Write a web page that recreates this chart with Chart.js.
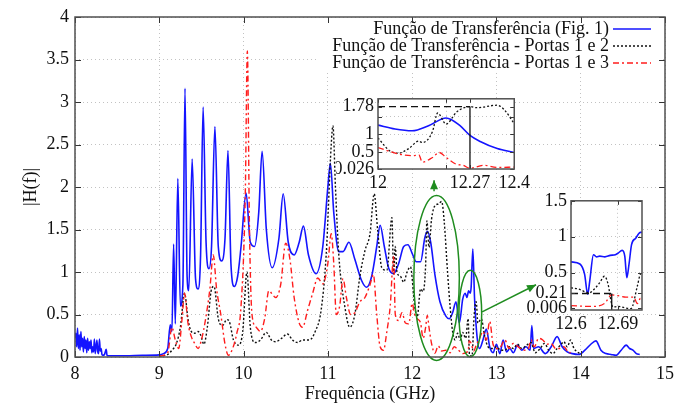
<!DOCTYPE html>
<html>
<head>
<meta charset="utf-8">
<title>Função de Transferência</title>
<script src="https://cdn.jsdelivr.net/npm/chart.js"></script>
<style>
  body { margin: 0; background: #fff; }
  #wrap { position: relative; width: 689px; height: 405px; }
  #wrap canvas { position: absolute; }
</style>
</head>
<body>
<div id="wrap">
  <canvas id="mainChart" width="689" height="405" style="left:0;top:0"></canvas>
  <canvas id="zoomA" width="197" height="110" style="left:336px;top:84px"></canvas>
  <canvas id="zoomB" width="128" height="150" style="left:522px;top:186px"></canvas>
</div>
<script>
// legenda
const seriesNames = [
  'Função de Transferência (Fig. 1)',
  'Função de Transferência - Portas 1 e 2',
  'Função de Transferência - Portas 1 e 3'
];

// Fig. 1 (azul)
const blueFreq = [
  8.00, 8.01, 8.02, 8.03, 8.04, 8.05, 8.06, 8.07, 8.08, 8.09, 8.10, 8.11, 8.12, 8.13, 8.14,
  8.15, 8.16, 8.17, 8.18, 8.19, 8.20, 8.21, 8.22, 8.23, 8.24, 8.26, 8.27, 8.28, 8.29, 8.30,
  8.31, 8.32, 8.33, 8.35, 8.37, 8.38, 8.40, 8.60, 8.80, 9.00, 9.05, 9.10, 9.13, 9.15, 9.17,
  9.19, 9.22, 9.25, 9.28, 9.305, 9.33, 9.35, 9.39, 9.43, 9.46, 9.49, 9.52, 9.555, 9.59, 9.62,
  9.66, 9.70, 9.74, 9.78, 9.815, 9.85, 9.89, 9.93, 9.97, 10.03, 10.08, 10.13, 10.18, 10.22, 10.27,
  10.34, 10.42, 10.47, 10.53, 10.60, 10.66, 10.71, 10.77, 10.86, 10.94, 11.00, 11.03, 11.07, 11.13, 11.18,
  11.25, 11.32, 11.40, 11.46, 11.52, 11.58, 11.62, 11.67, 11.72, 11.78, 11.84, 11.90, 11.95, 12.00, 12.05,
  12.10, 12.15, 12.18, 12.22, 12.27, 12.33, 12.40, 12.44, 12.48, 12.52, 12.56, 12.60, 12.63, 12.65, 12.67,
  12.69, 12.70, 12.72, 12.74, 12.77, 12.80, 12.84, 12.88, 12.92, 12.96, 13.00, 13.04, 13.08, 13.12, 13.16,
  13.20, 13.25, 13.30, 13.35, 13.40, 13.42, 13.44, 13.50, 13.58, 13.65, 13.72, 13.78, 13.84, 13.90, 13.98,
  14.05, 14.12, 14.18, 14.24, 14.30, 14.36, 14.42, 14.48, 14.54, 14.58, 14.62, 14.66, 14.70
];
const blueMag = [
  0.22, 0.28, 0.12, 0.34, 0.10, 0.26, 0.08, 0.30, 0.12, 0.22, 0.06, 0.24, 0.10, 0.20, 0.05,
  0.22, 0.08, 0.18, 0.10, 0.20, 0.05, 0.12, 0.06, 0.21, 0.04, 0.20, 0.06, 0.04, 0.21, 0.07,
  0.10, 0.03, 0.02, 0.03, 0.09, 0.02, 0.015, 0.015, 0.02, 0.025, 0.04, 0.10, 0.38, 0.30, 1.33,
  0.39, 2.10, 0.60, 0.85, 3.16, 0.95, 0.78, 2.33, 0.92, 0.80, 1.20, 2.94, 1.35, 1.04, 1.30,
  2.71, 1.30, 1.13, 1.40, 2.43, 1.10, 0.83, 0.95, 1.30, 1.93, 1.35, 1.30, 1.70, 2.42, 1.50,
  1.05, 1.40, 1.92, 1.35, 1.20, 1.35, 1.54, 1.20, 0.98, 1.30, 2.00, 2.28, 1.70, 1.24, 1.24,
  1.35, 1.15, 0.90, 0.82, 0.95, 1.30, 1.55, 1.30, 1.05, 0.98, 1.10, 1.30, 1.32, 1.22, 1.12,
  1.12, 1.40, 1.48, 1.35, 0.97, 0.65, 0.48, 0.45, 0.52, 0.65, 0.40, 0.68, 0.75, 0.70, 0.78,
  0.75, 0.82, 1.27, 0.70, 0.24, 0.10, 0.20, 0.33, 0.12, 0.05, 0.15, 0.04, 0.20, 0.06, 0.10,
  0.05, 0.14, 0.08, 0.12, 0.08, 0.37, 0.10, 0.12, 0.04, 0.12, 0.24, 0.12, 0.06, 0.04, 0.03,
  0.08, 0.15, 0.19, 0.08, 0.04, 0.03, 0.02, 0.08, 0.14, 0.10, 0.08, 0.04, 0.03
];

// Portas 1 e 2 (preto)
const blackFreq = [
  9.00, 9.10, 9.15, 9.20, 9.25, 9.30, 9.34, 9.37, 9.42, 9.46, 9.49, 9.53, 9.57, 9.62, 9.65,
  9.70, 9.75, 9.80, 9.83, 9.88, 9.94, 9.99, 10.04, 10.08, 10.14, 10.20, 10.27, 10.33, 10.38, 10.45,
  10.52, 10.58, 10.64, 10.70, 10.78, 10.85, 10.92, 10.98, 11.04, 11.06, 11.09, 11.13, 11.20, 11.26, 11.32,
  11.38, 11.44, 11.50, 11.55, 11.59, 11.64, 11.70, 11.76, 11.78, 11.80, 11.82, 11.86, 11.90, 11.94, 11.98,
  12.03, 12.06, 12.10, 12.13, 12.16, 12.175, 12.20, 12.23, 12.27, 12.31, 12.35, 12.38, 12.42, 12.45, 12.48,
  12.51, 12.54, 12.57, 12.60, 12.635, 12.664, 12.68, 12.71, 12.735, 12.76, 12.78, 12.82, 12.86, 12.90, 12.95,
  13.00, 13.05, 13.10, 13.15, 13.20, 13.25, 13.30, 13.36, 13.41, 13.46, 13.52, 13.57, 13.62, 13.67, 13.72,
  13.76, 13.80, 13.84, 13.88, 13.92, 13.96, 13.99
];
const blackMag = [
  0.01, 0.03, 0.08, 0.15, 0.35, 0.75, 0.45, 0.32, 0.28, 0.30, 0.26, 0.15, 0.35, 0.80, 0.83,
  0.45, 0.37, 0.44, 0.42, 0.20, 0.14, 0.30, 1.00, 0.35, 0.17, 0.20, 0.29, 0.20, 0.18, 0.22,
  0.27, 0.20, 0.17, 0.20, 0.20, 0.30, 0.55, 1.20, 2.50, 2.72, 2.00, 1.20, 0.60, 0.35, 0.50,
  0.95, 1.25, 1.45, 1.92, 1.50, 1.05, 1.02, 1.64, 0.98, 1.30, 1.00, 0.95, 0.88, 1.00, 1.06,
  0.60, 0.47, 0.80, 0.77, 1.08, 1.60, 1.29, 1.62, 1.78, 1.80, 1.83, 1.60, 1.00, 0.60, 0.30,
  0.20, 0.28, 0.20, 0.29, 0.22, 0.45, 0.03, 0.01, 0.48, 0.65, 0.40, 0.45, 0.25, 0.12, 0.10,
  0.12, 0.08, 0.08, 0.12, 0.10, 0.15, 0.10, 0.14, 0.17, 0.05, 0.10, 0.16, 0.08, 0.04, 0.10,
  0.14, 0.18, 0.12, 0.20, 0.10, 0.06, 0.04
];

// Portas 1 e 3 (vermelho)
const redFreq = [
  9.00, 9.10, 9.15, 9.19, 9.23, 9.27, 9.30, 9.34, 9.38, 9.42, 9.46, 9.50, 9.55, 9.60, 9.64,
  9.68, 9.73, 9.78, 9.82, 9.87, 9.92, 9.97, 10.02, 10.045, 10.07, 10.10, 10.15, 10.20, 10.25, 10.30,
  10.34, 10.38, 10.44, 10.50, 10.55, 10.60, 10.66, 10.70, 10.76, 10.82, 10.88, 10.94, 11.00, 11.04, 11.07,
  11.10, 11.14, 11.18, 11.22, 11.27, 11.32, 11.38, 11.44, 11.50, 11.54, 11.58, 11.62, 11.66, 11.70, 11.74,
  11.78, 11.80, 11.84, 11.88, 11.92, 11.96, 12.00, 12.03, 12.06, 12.10, 12.13, 12.16, 12.18, 12.20, 12.23,
  12.27, 12.31, 12.35, 12.40, 12.45, 12.50, 12.55, 12.60, 12.664, 12.678, 12.70, 12.73, 12.76, 12.80, 12.84,
  12.88, 12.92, 12.96, 13.00, 13.05, 13.10, 13.15, 13.20, 13.26, 13.32, 13.38, 13.41, 13.45, 13.50, 13.55,
  13.60, 13.65, 13.70, 13.75, 13.80, 13.85, 13.88
];
const redMag = [
  0.01, 0.05, 0.35, 0.20, 0.10, 0.45, 0.75, 0.40, 0.24, 0.16, 0.10, 0.20, 0.45, 0.80, 1.20,
  0.80, 0.50, 0.15, 0.02, 0.10, 0.28, 0.60, 1.90, 3.60, 1.50, 0.50, 0.35, 0.30, 0.45, 0.78,
  0.74, 0.70, 0.85, 1.34, 1.15, 0.70, 0.40, 0.35, 0.55, 0.75, 0.93, 0.86, 1.10, 1.45, 1.10,
  0.50, 0.60, 0.92, 0.70, 0.50, 0.52, 0.65, 0.70, 0.85, 0.97, 0.50, 0.12, 0.08, 0.30, 0.60,
  1.18, 0.50, 0.43, 0.52, 0.40, 0.39, 0.63, 0.50, 0.45, 0.40, 0.22, 0.35, 0.49, 0.35, 0.16,
  0.045, 0.13, 0.07, 0.08, 0.05, 0.12, 0.08, 0.04, 0.07, 0.19, 0.16, 0.07, 0.14, 0.22, 0.30,
  0.20, 0.42, 0.15, 0.10, 0.12, 0.20, 0.10, 0.16, 0.12, 0.08, 0.10, 0.20, 0.12, 0.22, 0.20,
  0.15, 0.16, 0.10, 0.10, 0.12, 0.06, 0.05
];

// zoom 12 - 12.4 GHz
const zoomABlueFreq = [12.0, 12.05, 12.1, 12.15, 12.2, 12.24, 12.27, 12.3, 12.35, 12.4];
const zoomABlueMag = [1.26, 1.15, 1.10, 1.25, 1.46, 1.25, 0.97, 0.80, 0.60, 0.49];
const zoomABlackFreq = [12.0, 12.034, 12.06, 12.09, 12.12, 12.13, 12.16, 12.175, 12.2, 12.23, 12.25, 12.27, 12.29, 12.35, 12.37, 12.4];
const zoomABlackMag = [0.90, 0.54, 0.47, 0.60, 0.81, 0.77, 1.08, 1.60, 1.29, 1.62, 1.74, 1.78, 1.75, 1.82, 1.70, 1.30];
const zoomARedFreq = [12.0, 12.06, 12.1, 12.12, 12.13, 12.16, 12.18, 12.2, 12.23, 12.25, 12.27, 12.31, 12.35, 12.4];
const zoomARedMag = [0.63, 0.45, 0.40, 0.42, 0.22, 0.35, 0.49, 0.35, 0.16, 0.13, 0.045, 0.13, 0.07, 0.08];
const zoomAMarkFreq = [12.0, 12.27, 12.27];
const zoomAMarkMag = [1.78, 1.78, 0.026];
const zoomAXTicks = [12, 12.2, 12.27, 12.4];
const zoomAXLabels = ['12', '', '12.27', '12.4'];
const zoomAYTicks = [0.026, 0.5, 1, 1.5, 1.78];
const zoomAYLabels = ['0.026', '0.5', '1', '', '1.78'];

// zoom 12.6 - 12.74 GHz
const zoomBBlueFreq = [12.6, 12.617, 12.626, 12.632, 12.636, 12.643, 12.649, 12.655, 12.665, 12.675, 12.685, 12.69, 12.698, 12.703, 12.707, 12.711, 12.716, 12.724, 12.733, 12.736];
const zoomBBlueMag = [0.65, 0.62, 0.48, 0.20, 0.39, 0.75, 0.72, 0.73, 0.72, 0.74, 0.75, 0.77, 0.81, 0.73, 0.43, 0.61, 0.89, 0.98, 1.06, 1.06];
const zoomBBlackFreq = [12.6, 12.615, 12.635, 12.647, 12.655, 12.664, 12.671, 12.677, 12.68, 12.69, 12.703, 12.715, 12.727, 12.733, 12.736];
const zoomBBlackMag = [0.29, 0.27, 0.22, 0.29, 0.36, 0.45, 0.34, 0.09, 0.02, 0.03, 0.01, 0.00, 0.31, 0.48, 0.49];
const zoomBRedFreq = [12.6, 12.64, 12.664, 12.678, 12.69, 12.705, 12.72, 12.727, 12.733, 12.736];
const zoomBRedMag = [0.04, 0.03, 0.07, 0.19, 0.18, 0.16, 0.16, 0.07, 0.14, 0.14];
const zoomBMarkFreq = [12.6, 12.678, 12.678];
const zoomBMarkMag = [0.21, 0.21, -0.02];
const zoomBXTicks = [12.6, 12.69];
const zoomBXLabels = ['12.6', '12.69'];
const zoomBYTicks = [0.006, 0.21, 0.5, 1, 1.5];
const zoomBYLabels = ['0.006', '0.21', '0.5', '1', '1.5'];

// elipses verdes e setas (em GHz / |H(f)|)
const ellipseFreq = [12.29, 12.69];
const ellipseMag = [0.93, 0.51];
const ellipseHalfFreq = [0.27, 0.135];
const ellipseHalfMag = [0.97, 0.51];
const arrowFromFreq = [12.26, 12.83];
const arrowFromMag = [1.95, 0.53];
const arrowToFreq = [12.26, 13.47];
const arrowToMag = [2.08, 0.85];

const serif = "'Liberation Serif', 'Times New Roman', serif";
Chart.defaults.font.family = serif;
Chart.defaults.color = '#111';

const BLUE = '#1414ff';
const BLACK = '#111111';
const RED = '#ff1c1c';
const GREEN = '#1f8c1f';
const DOT = [2, 2];
const DASHDOT = [6, 3, 2, 3];

const pts = (xs, ys) => xs.map((x, i) => ({ x: x, y: ys[i] }));

// moldura e marcas de escala para dentro (estilo gnuplot)
const frameTicks = {
  id: 'frameTicks',
  beforeDraw(chart, args, opts) {
    if (!opts.fill) return;
    const a = chart.chartArea;
    chart.ctx.save();
    chart.ctx.fillStyle = '#fff';
    chart.ctx.fillRect(a.left, a.top, a.right - a.left, a.bottom - a.top);
    chart.ctx.restore();
  },
  afterDraw(chart, args, opts) {
    const { ctx, chartArea: a, scales } = chart;
    ctx.save();
    ctx.strokeStyle = '#333';
    ctx.lineWidth = 1;
    ctx.beginPath();
    scales.x.ticks.forEach(t => {
      const px = Math.round(scales.x.getPixelForValue(t.value)) + 0.5;
      ctx.moveTo(px, a.bottom); ctx.lineTo(px, a.bottom - opts.len);
      ctx.moveTo(px, a.top); ctx.lineTo(px, a.top + opts.len);
    });
    scales.y.ticks.forEach(t => {
      const py = Math.round(scales.y.getPixelForValue(t.value)) + 0.5;
      ctx.moveTo(a.left, py); ctx.lineTo(a.left + opts.len, py);
      ctx.moveTo(a.right, py); ctx.lineTo(a.right - opts.len, py);
    });
    ctx.stroke();
    ctx.strokeStyle = '#505050';
    ctx.lineWidth = 1.5;
    ctx.strokeRect(a.left, a.top, a.right - a.left, a.bottom - a.top);
    ctx.restore();
  }
};

// elipses, setas e legenda do gráfico principal
const overlay = {
  id: 'overlay',
  afterDatasetsDraw(chart) {
    const { ctx, chartArea: a, scales: { x, y } } = chart;
    ctx.save();
    ctx.strokeStyle = GREEN;
    ctx.fillStyle = GREEN;
    ctx.lineWidth = 1.5;
    ellipseFreq.forEach((f, i) => {
      const cx = x.getPixelForValue(f), cy = y.getPixelForValue(ellipseMag[i]);
      const rx = x.getPixelForValue(f + ellipseHalfFreq[i]) - cx;
      const ry = cy - y.getPixelForValue(ellipseMag[i] + ellipseHalfMag[i]);
      ctx.beginPath();
      ctx.ellipse(cx, cy, rx, ry, 0, 0, Math.PI * 2);
      ctx.stroke();
    });
    arrowFromFreq.forEach((f, i) => {
      const x0 = x.getPixelForValue(f), y0 = y.getPixelForValue(arrowFromMag[i]);
      const x1 = x.getPixelForValue(arrowToFreq[i]), y1 = y.getPixelForValue(arrowToMag[i]);
      const ang = Math.atan2(y1 - y0, x1 - x0);
      ctx.beginPath();
      ctx.moveTo(x0, y0); ctx.lineTo(x1, y1);
      ctx.stroke();
      ctx.beginPath();
      ctx.moveTo(x1, y1);
      ctx.lineTo(x1 - 9 * Math.cos(ang) + 4 * Math.sin(ang), y1 - 9 * Math.sin(ang) - 4 * Math.cos(ang));
      ctx.lineTo(x1 - 9 * Math.cos(ang) - 4 * Math.sin(ang), y1 - 9 * Math.sin(ang) + 4 * Math.cos(ang));
      ctx.closePath();
      ctx.fill();
    });

    // legenda dentro do gráfico
    ctx.fillStyle = '#fff';
    ctx.fillRect(a.right - 347, a.top + 3, 345, 52);
    ctx.font = '18px ' + serif;
    ctx.textAlign = 'right';
    ctx.textBaseline = 'middle';
    chart.data.datasets.forEach((ds, i) => {
      const yy = a.top + 12 + i * 17;
      ctx.fillStyle = '#111';
      ctx.fillText(ds.label, a.right - 56, yy);
      ctx.strokeStyle = ds.borderColor;
      ctx.lineWidth = ds.borderWidth;
      ctx.setLineDash(ds.borderDash || []);
      ctx.beginPath();
      ctx.moveTo(a.right - 52, yy); ctx.lineTo(a.right - 14, yy);
      ctx.stroke();
    });
    ctx.restore();
  }
};

const gridLine = '#c2c2c2';
const plainNum = v => String(Math.round(v * 1000) / 1000);

new Chart(document.getElementById('mainChart'), {
  type: 'line',
  data: {
    datasets: [
      { label: seriesNames[0], data: pts(blueFreq, blueMag), borderColor: BLUE, borderWidth: 1.6, order: 3 },
      { label: seriesNames[1], data: pts(blackFreq, blackMag), borderColor: BLACK, borderWidth: 1.4, borderDash: DOT, order: 2 },
      { label: seriesNames[2], data: pts(redFreq, redMag), borderColor: RED, borderWidth: 1.4, borderDash: DASHDOT, order: 1 }
    ]
  },
  options: {
    responsive: false,
    animation: false,
    events: [],
    layout: { padding: { top: 17, right: 24, bottom: 0, left: 0 } },
    elements: { point: { radius: 0 }, line: { cubicInterpolationMode: 'monotone', fill: false } },
    plugins: { legend: { display: false }, tooltip: { enabled: false }, frameTicks: { len: 6 } },
    scales: {
      x: {
        type: 'linear', min: 8, max: 15,
        ticks: { stepSize: 1, padding: 6, font: { size: 18 }, color: '#111', maxRotation: 0, callback: plainNum },
        grid: { color: gridLine, drawTicks: false },
        border: { display: false, dash: [1, 3] },
        title: { display: true, text: 'Frequência (GHz)', font: { size: 18 }, color: '#111', padding: { top: 0, bottom: 0 } },
        afterFit: s => { s.height = 48; }
      },
      y: {
        type: 'linear', min: 0, max: 4,
        ticks: { stepSize: 0.5, padding: 6, font: { size: 18 }, color: '#111', callback: plainNum },
        grid: { color: gridLine, drawTicks: false },
        border: { display: false, dash: [1, 3] },
        title: { display: true, text: '|H(f)|', font: { size: 18 }, color: '#111', padding: { top: 20, bottom: 0 } },
        afterFit: s => { s.width = 75; }
      }
    }
  },
  plugins: [frameTicks, overlay]
});

// gráficos ampliados
function makeZoom(id, cfg) {
  const markSeg = { borderDash: c => (c.p0DataIndex === 0 ? [7, 4] : undefined) };
  return new Chart(document.getElementById(id), {
    type: 'line',
    data: {
      datasets: [
        { data: pts(cfg.blue[0], cfg.blue[1]), borderColor: BLUE, borderWidth: 1.6, order: 4 },
        { data: pts(cfg.black[0], cfg.black[1]), borderColor: BLACK, borderWidth: 1.3, borderDash: DOT, order: 3 },
        { data: pts(cfg.red[0], cfg.red[1]), borderColor: RED, borderWidth: 1.3, borderDash: DASHDOT, order: 2 },
        { data: pts(cfg.mark[0], cfg.mark[1]), borderColor: BLACK, borderWidth: 1.3, segment: markSeg, cubicInterpolationMode: 'default', order: 1 }
      ]
    },
    options: {
      responsive: false,
      animation: false,
      events: [],
      layout: { padding: cfg.padding },
      elements: { point: { radius: 0 }, line: { cubicInterpolationMode: 'monotone', fill: false } },
      plugins: { legend: { display: false }, tooltip: { enabled: false }, frameTicks: { len: 4, fill: true } },
      scales: {
        x: {
          type: 'linear', min: cfg.xRange[0], max: cfg.xRange[1],
          afterBuildTicks: s => { s.ticks = cfg.xTicks.map(v => ({ value: v })); },
          ticks: { autoSkip: false, maxRotation: 0, padding: 3, font: { size: 18 }, color: '#111',
                   callback: (v, i) => cfg.xLabels[i] },
          grid: { drawTicks: false, color: c => (cfg.xGrid.includes(c.tick && c.tick.value) ? gridLine : 'rgba(0,0,0,0)') },
          border: { display: false, dash: [1, 3] },
          afterFit: s => { s.height = cfg.xHeight; }
        },
        y: {
          type: 'linear', min: cfg.yRange[0], max: cfg.yRange[1],
          afterBuildTicks: s => { s.ticks = cfg.yTicks.map(v => ({ value: v })); },
          ticks: { autoSkip: false, padding: 4, font: { size: 18 }, color: '#111',
                   callback: (v, i) => cfg.yLabels[i] },
          grid: { drawTicks: false, color: c => (cfg.yGrid.includes(c.tick && c.tick.value) ? gridLine : 'rgba(0,0,0,0)') },
          border: { display: false, dash: [1, 3] },
          afterFit: s => { s.width = cfg.yWidth; }
        }
      }
    },
    plugins: [frameTicks]
  });
}

makeZoom('zoomA', {
  blue: [zoomABlueFreq, zoomABlueMag],
  black: [zoomABlackFreq, zoomABlackMag],
  red: [zoomARedFreq, zoomARedMag],
  mark: [zoomAMarkFreq, zoomAMarkMag],
  xRange: [12, 12.4], yRange: [0.026, 2.0],
  xTicks: zoomAXTicks, xLabels: zoomAXLabels, xGrid: [12.2],
  yTicks: zoomAYTicks, yLabels: zoomAYLabels, yGrid: [0.5, 1, 1.5],
  padding: { top: 12, right: 16, bottom: 0, left: 0 },
  xHeight: 25, yWidth: 42
});

makeZoom('zoomB', {
  blue: [zoomBBlueFreq, zoomBBlueMag],
  black: [zoomBBlackFreq, zoomBBlackMag],
  red: [zoomBRedFreq, zoomBRedMag],
  mark: [zoomBMarkFreq, zoomBMarkMag],
  xRange: [12.6, 12.736], yRange: [-0.02, 1.5],
  xTicks: zoomBXTicks, xLabels: zoomBXLabels, xGrid: [12.69],
  yTicks: zoomBYTicks, yLabels: zoomBYLabels, yGrid: [0.5, 1],
  padding: { top: 13, right: 8, bottom: 0, left: 0 },
  xHeight: 26, yWidth: 49
});
</script>
</body>
</html>
